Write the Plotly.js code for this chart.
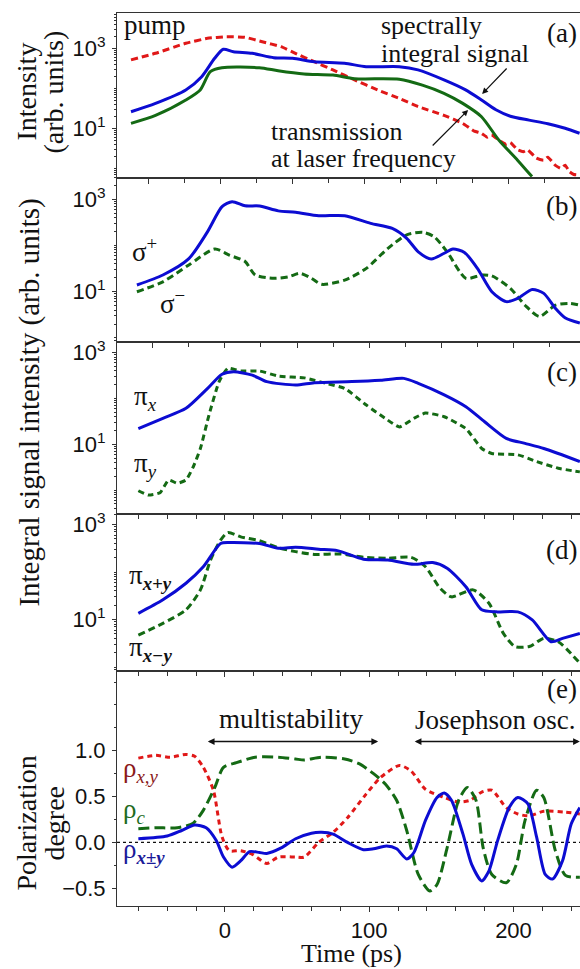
<!DOCTYPE html>
<html>
<head>
<meta charset="utf-8">
<script src="https://cdn.plot.ly/plotly-3.0.1.min.js"></script>
<style>
html,body{margin:0;padding:0;background:#fff;}
#chart{width:580px;height:969px;}
#chart text.annotation-text{font-family:"Liberation Serif",serif !important;}
#chart .xtick text,#chart .ytick text{font-family:"Liberation Sans",sans-serif !important;}
</style>
</head>
<body>
<div id="chart"></div>
<script>
// ---------- DATA ----------
// Panel (a): time axis of this panel (ps)
const tSigA   = [-62,-45,-24,-13,-4,2,9,22,37,50,65,86,101,124,137,155,170,181,191,201,214,227,239,249];
const sigA    = [26,42,91,195,562,944,822,750,582,562,462,422,347,347,288,162,91,51,29,20,16,13,10,7.5];
const tTrA    = [-62,-45,-24,-14,-7,1,27,40,58,78,93,124,140,155,168,181,193,206,216];
const trA     = [13.3,21,51,91,260,327,327,275,229,214,174,168,120,75,42,19.5,5.1,1.6,0.62];
const tPumpA  = [-62,-45,-24,-9,4,17,29,42,52,65,78,93,109,124,137,155,168,176,181,185,188,193,198,201,206,210,213,219,224,227,232,236,239,242,245,249];
const pumpA   = [513,750,1334,1778,1950,1884,1462,1096,750,462,288,162,91,56,35,21,13.3,8.5,7.5,6.0,6.8,5.1,4.0,4.4,2.9,2.6,2.9,1.8,1.6,1.9,1.2,1.0,1.2,0.82,0.7,0.68];

// Panel (b)
const tSp      = [-61,-43,-25,-12,-2,5,14,24,37,49,65,83,101,116,126,134,143,152,158,166,175,185,195,203,213,221,229,236,246];
const sigPlus  = [14,23,52,200,692,891,724,716,562,525,442,442,302,234,143,73,51,68,84,71,32,10,6.1,7.2,11.2,9.2,4.4,2.7,2.1];
const tSm      = [-61,-43,-25,-7,3,14,21,34,44,52,60,67,83,98,113,126,137,145,154,167,178,185,198,208,218,229,239,246];
const sigMinus = [10,16.4,38,84,62,45,23,19.5,21,25,19.5,14.5,17.8,32,87,170,193,155,73,19.5,23,22,11.7,5.1,2.9,5.1,5.6,5.1];

// Panel (c)
const tPix = [-60,-43,-27,-12,-2,6,19,29,49,62,88,108,124,134,152,167,180,195,208,221,231,246];
const piX  = [22,37,61,166,339,385,324,234,197,221,234,251,275,214,120,66,31,13.5,10.5,8.1,6.3,4.2];
const tPiy = [-60,-53,-45,-39,-33,-27,-22,-17,-11,-4,2,11,24,37,55,70,83,98,111,121,131,139,152,167,178,185,203,216,231,246];
const piY  = [0.97,0.78,0.88,1.66,1.41,1.66,3.2,8.1,44,234,457,398,398,309,282,214,166,72,37,24,37,48,40,22,8.1,6.3,5.9,4.2,3.0,2.5];

// Panel (d)
const tPd   = [-60,-43,-27,-15,-3,3,24,37,49,65,78,96,113,131,144,154,167,178,188,203,213,226,234,246];
const piXpY = [13.5,26,58,129,398,417,398,316,331,302,282,186,178,145,158,120,49,16,14.5,14.5,9.8,3.4,4.0,5.1];
const tMd   = [-60,-43,-27,-17,-10,-3,2,11,24,37,49,62,80,96,113,129,139,149,157,172,183,193,201,211,221,231,246];
const piXmY = [4.7,8.3,16,42,178,468,676,550,457,324,269,234,240,204,195,204,129,46,30,42,22,5.1,2.7,2.7,4.0,3.4,1.2];

// Panel (e)
const tR    = [-60,-48,-38,-27,-21,-15,-8,-2,3,11,19,29,37,49,55,65,75,85,98,108,121,129,139,152,162,170,178,185,195,203,211,221,236,246];
const rhoXY = [0.92,0.95,0.93,0.96,0.94,0.82,0.57,0.06,-0.09,-0.09,-0.13,-0.23,-0.16,-0.16,-0.16,0.0,0.11,0.27,0.53,0.71,0.84,0.78,0.58,0.49,0.44,0.46,0.55,0.57,0.38,0.31,0.29,0.34,0.33,0.31];
const tC    = [-60,-48,-33,-22,-15,-7,-1,8,21,37,49,55,67,83,93,103,111,119,126,134,142,147,154,162,168,174,179,185,195,202,208,216,221,229,236,246];
const rhoC  = [0.15,0.16,0.16,0.21,0.35,0.60,0.82,0.87,0.93,0.93,0.91,0.90,0.93,0.91,0.86,0.75,0.64,0.46,0.13,-0.35,-0.53,-0.46,-0.06,0.46,0.60,0.46,-0.06,-0.35,-0.44,-0.24,0.24,0.57,0.49,-0.09,-0.36,-0.38];
const tD    = [-60,-40,-30,-21,-13,-6,-1,5,11,17,24,29,39,49,60,67,75,85,96,103,112,119,126,131,139,147,152,157,165,171,178,183,189,197,203,210,216,222,227,234,240,246];
const rhoD  = [0.04,0.07,0.13,0.19,0.16,0.02,-0.16,-0.27,-0.20,-0.10,-0.11,-0.12,-0.06,0.04,0.10,0.11,0.09,0.0,-0.08,-0.07,-0.04,-0.07,-0.18,-0.11,0.24,0.49,0.54,0.46,0.09,-0.24,-0.42,-0.31,0.02,0.38,0.49,0.42,0.06,-0.35,-0.40,-0.20,0.20,0.38];

// Tick labels
const xTickVals = [0,100,200];
const xTickText = ['0','100','200'];
const logTickVals = [10,1000];
const logTickText = ['10<sup>1</sup>','10<sup>3</sup>'];
const polTickVals = [-0.5,0,0.5,1.0];

(function () {
  // ---------- STYLE / LAYOUT ----------
  var FW = 580, FH = 969, ML = 116.5, MT = 13, MB = 906;
  function pxX(p) { return (p - ML) / (FW - ML); }
  function pxY(p) { return (MB - p) / (MB - MT); }

  var BLUE = '#0c0cd2', GREEN = '#146a14', RED = '#e01818';
  var SERIF = 'Liberation Serif';
  var SANS = 'Liberation Sans';
  var AXC = '#333';

  var minorLog = [];
  [0.1,1,10,100,1000].forEach(function (d) { for (var k = 1; k <= 9; k++) if (!(k === 1 && (d === 10 || d === 1000))) minorLog.push(k*d); });

  function ln(x, y, xa, ya, color, dash, smooth) {
    return {x: x, y: y, xaxis: xa, yaxis: ya, mode: 'lines', hoverinfo: 'skip',
            line: {color: color, width: 3, dash: dash || 'solid', shape: 'spline', smoothing: smooth === undefined ? 0.7 : smooth}};
  }

  var traces = [
    ln(tPumpA, pumpA, 'x', 'y', RED, '7px,4px', 0.4),
    ln(tTrA, trA, 'x', 'y', GREEN),
    ln(tSigA, sigA, 'x', 'y', BLUE),
    ln(tSm, sigMinus, 'x2', 'y2', GREEN, '7px,4px'),
    ln(tSp, sigPlus, 'x2', 'y2', BLUE),
    ln(tPiy, piY, 'x3', 'y3', GREEN, '6px,4px', 0.5),
    ln(tPix, piX, 'x3', 'y3', BLUE),
    ln(tMd, piXmY, 'x4', 'y4', GREEN, '7px,4px'),
    ln(tPd, piXpY, 'x4', 'y4', BLUE),
    ln(tR, rhoXY, 'x5', 'y5', RED, '5px,4px'),
    ln(tC, rhoC, 'x5', 'y5', GREEN, '11px,5px'),
    ln(tD, rhoD, 'x5', 'y5', BLUE)
  ];

  var bounds = [13.3, 177.7, 342.3, 514.3, 670.7, 906];

  function xAxis(i, range, dtick, minorDtick, labels) {
    var a = {
      anchor: 'y' + (i === 1 ? '' : i), domain: [0, 1], range: range,
      showline: true, linecolor: AXC, linewidth: 1, mirror: true,
      ticks: 'outside', ticklen: 5, tickwidth: 1, tickcolor: AXC,
      showgrid: false, zeroline: false, showticklabels: !!labels,
      tickmode: 'linear', tick0: 0, dtick: dtick,
      minor: {ticks: 'outside', ticklen: 4, tickwidth: 1, tickcolor: AXC, tickmode: 'linear', tick0: 0, dtick: minorDtick, showgrid: false},
      tickfont: {family: SANS, size: 22, color: '#111'}
    };
    if (labels) { a.tickmode = 'array'; a.tickvals = xTickVals; a.ticktext = xTickText; a.ticklabelstandoff = 0; }
    return a;
  }
  function yLog(i, range) {
    return {
      anchor: 'x' + (i === 1 ? '' : i), type: 'log', range: range,
      domain: [pxY(bounds[i]), pxY(bounds[i-1])],
      showline: true, linecolor: AXC, linewidth: 1, mirror: false,
      ticks: 'outside', ticklen: 4, tickcolor: AXC, showgrid: false, zeroline: false,
      tickmode: 'array', tickvals: logTickVals, ticktext: logTickText,
      minor: {ticks: 'outside', ticklen: 2.5, tickcolor: AXC, tickmode: 'array', tickvals: minorLog, showgrid: false},
      tickfont: {family: SANS, size: 22, color: '#111'}, ticklabelstandoff: 2
    };
  }

  var lay = {
    width: FW, height: FH,
    margin: {l: ML, r: 0, t: MT, b: FH - MB, pad: 0},
    paper_bgcolor: '#fff', plot_bgcolor: '#fff', showlegend: false,
    font: {family: SANS, size: 22, color: '#111'},
    xaxis:  xAxis(1, [-71.7, 249.3], 50, 25, false),
    xaxis2: xAxis(2, [-74.8, 246.1], 50, 25, false),
    xaxis3: xAxis(3, [-74.8, 246.1], 100, 20, false),
    xaxis4: xAxis(4, [-74.8, 246.1], 100, 20, false),
    xaxis5: xAxis(5, [-74.8, 246.1], 100, 20, true),
    yaxis:  yLog(1, [-0.235, 3.875]),
    yaxis2: yLog(2, [-0.095, 3.468]),
    yaxis3: yLog(3, [-0.528, 3.227]),
    yaxis4: yLog(4, [-0.078, 3.215]),
    yaxis5: {
      anchor: 'x5', range: [-0.694, 1.874], domain: [0, pxY(bounds[4])],
      showline: true, linecolor: AXC, linewidth: 1, ticks: 'outside', ticklen: 4, tickcolor: AXC,
      showgrid: false, zeroline: false, tickmode: 'array', tickvals: polTickVals, tickformat: '.1f',
      minor: {ticks: 'outside', ticklen: 2, tickcolor: AXC, tickmode: 'linear', tick0: 0, dtick: 0.25, showgrid: false},
      tickfont: {family: SANS, size: 22, color: '#111'}, ticklabelstandoff: 2
    },
    shapes: [
      {type: 'line', xref: 'x5', yref: 'y5', x0: -74.8, x1: 246.1, y0: 0, y1: 0,
       line: {color: '#111', width: 1.3, dash: 'dot'}, layer: 'below'}
    ],
    annotations: []
  };

  function txt(text, xPix, yPix, opts) {
    opts = opts || {};
    var xa = opts.xanchor || 'left';
    lay.annotations.push({
      text: text, xref: 'paper', yref: 'paper', x: pxX(xPix), y: pxY(yPix),
      xanchor: xa, yanchor: 'middle', showarrow: false,
      align: xa === 'left' ? 'left' : (xa === 'right' ? 'right' : 'center'),
      textangle: opts.angle || 0,
      font: {family: SERIF, size: opts.size || 27, color: opts.color || '#111'}
    });
  }
  function arrow(x0, y0, x1, y1) {
    lay.annotations.push({
      text: '', xref: 'paper', yref: 'paper', axref: 'paper', ayref: 'paper',
      x: pxX(x1), y: pxY(y1), ax: pxX(x0), ay: pxY(y0), showarrow: true,
      arrowhead: 2, arrowsize: 1, arrowwidth: 1.2, arrowcolor: '#111'
    });
  }
  function dblArrow(t0, t1, yv) {
    lay.annotations.push({
      text: '', xref: 'x5', yref: 'y5', axref: 'x5', ayref: 'y5',
      x: t1, y: yv, ax: t0, ay: yv, showarrow: true, arrowside: 'end+start',
      arrowhead: 2, startarrowhead: 2, arrowsize: 0.9, startarrowsize: 0.9, arrowwidth: 1.5, arrowcolor: '#111'
    });
  }

  // axis titles
  txt('Intensity', 25, 92, {angle: -90, xanchor: 'center', size: 28});
  txt('(arb. units)', 52, 92, {angle: -90, xanchor: 'center', size: 28});
  txt('Integral signal intensity (arb. units)', 28, 403, {angle: -90, xanchor: 'center', size: 29});
  txt('Polarization', 25, 823, {angle: -90, xanchor: 'center', size: 28});
  txt('degree', 53, 823, {angle: -90, xanchor: 'center', size: 28});
  txt('Time (ps)', 351, 953, {xanchor: 'center', size: 26});

  // panel (a)
  txt('pump', 122, 25);
  txt('(a)', 579, 33, {xanchor: 'right'});
  txt('spectrally', 379, 26, {size: 26});
  txt('integral signal', 379, 54, {size: 26});
  arrow(508, 67, 482, 94);
  txt('transmission', 269, 131, {size: 26});
  txt('at laser frequency', 269, 159, {size: 26});
  arrow(431, 147, 468, 110);

  // panel (b)
  txt('σ<sup>+</sup>', 130, 250);
  txt('σ<sup>−</sup>', 158, 302);
  txt('(b)', 579, 206, {xanchor: 'right'});

  // panel (c)
  txt('π<sub><i>x</i></sub>', 132, 398);
  txt('π<sub><i>y</i></sub>', 132, 465);
  txt('(c)', 579, 372, {xanchor: 'right'});

  // panel (d)
  txt('π<sub><b><i>x+y</i></b></sub>', 127, 577);
  txt('π<sub><b><i>x−y</i></b></sub>', 127, 649);
  txt('(d)', 579, 550, {xanchor: 'right'});

  // panel (e)
  txt('(e)', 579, 689, {xanchor: 'right'});
  txt('multistability', 291, 719, {xanchor: 'center'});
  txt('Josephson osc.', 413, 720);
  dblArrow(-12.9, 106.2, 1.10);
  dblArrow(130.5, 246, 1.10);
  txt('ρ<sub><i>x,y</i></sub>', 121, 770, {color: '#8b1a1a'});
  txt('ρ<sub><i>c</i></sub>', 121, 811, {color: '#1e6b1e'});
  txt('ρ<sub><b><i>x±y</i></b></sub>', 121, 851, {color: '#1a1a99'});

  function applyFonts(gd) {
    gd.querySelectorAll('.annotation-text').forEach(function (t) {
      t.style.setProperty('font-family', '"Liberation Serif", serif', 'important');
    });
  }

  Plotly.newPlot('chart', traces, lay, {displayModeBar: false, staticPlot: true}).then(function (gd) {
    applyFonts(gd);
    if (gd.on) gd.on('plotly_afterplot', function () { applyFonts(gd); });
  });
})();
</script>
</body>
</html>
